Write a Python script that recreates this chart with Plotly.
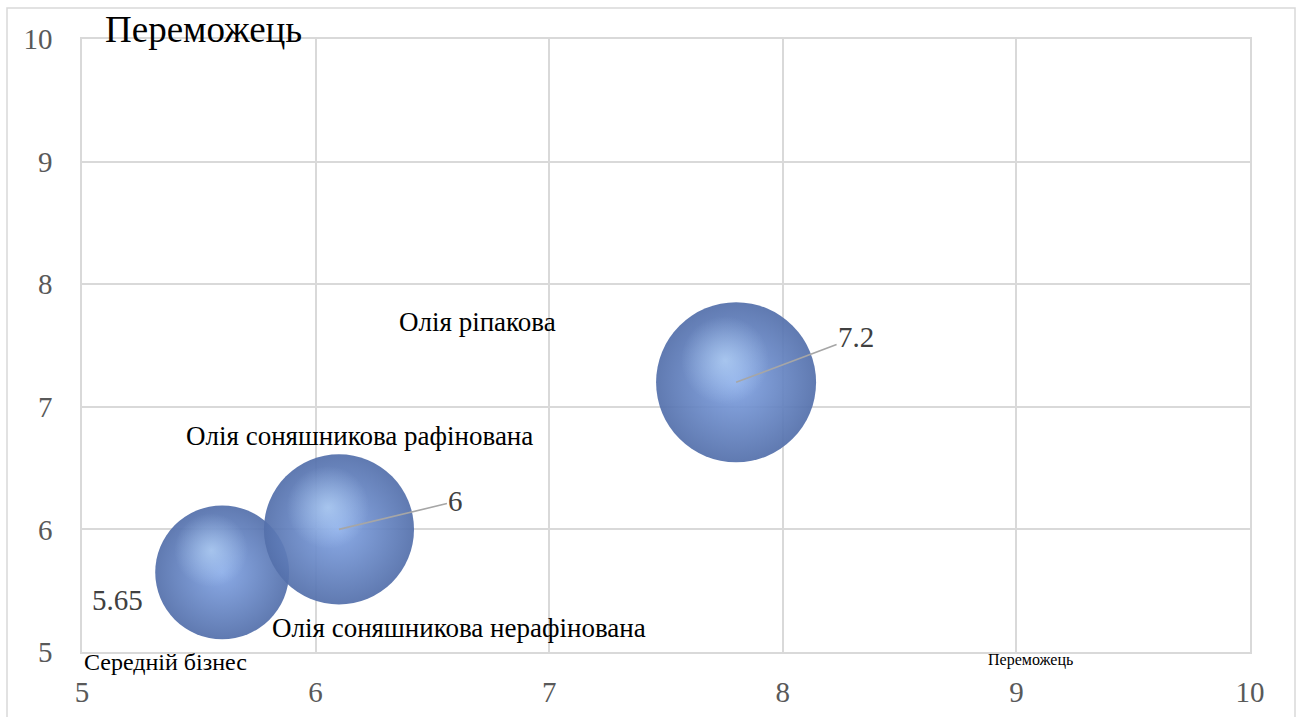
import plotly.graph_objects as go

# ---- data ----
products = ["Олія соняшникова нерафінована", "Олія соняшникова рафінована", "Олія ріпакова"]
x_vals = [5.6, 6.1, 7.8]
y_vals = [5.65, 6.0, 7.2]
bubble_size = [0.70, 0.88, 1.0]
x_ticks = [5, 6, 7, 8, 9, 10]
y_ticks = [5, 6, 7, 8, 9, 10]
quadrant_top = "Переможець"
quadrant_bottom_left = "Середній бізнес"
quadrant_bottom_right = "Переможець"

# ---- styles / positions ----
FONT = "'Liberation Serif', 'Times New Roman', 'DejaVu Serif', serif"
W, H = 1300, 717
L, R, T, B = 82, 50, 39, 65
pw, ph = W - L - R, H - T - B
max_diam = 160
hl_scale = 0.55          # highlight diameter relative to bubble
hl_dx, hl_dy = -11, -22  # highlight offset in px (screen: left, up)
X0, X1, Y0, Y1 = 5, 10, 5, 10

value_label_offsets = [(-105, 28, False), (117, -28, True), (120, -45, True)]  # (dx px, dy px (screen), arrow)
name_label_offsets = [(237, -56), (21, 93), (-259, 60)]  # xshift, yshift (up)

sref = 2 * max(bubble_size) / max_diam ** 2

fig = go.Figure()
fig.add_trace(go.Scatter(
    x=x_vals, y=y_vals, mode="markers",
    marker=dict(
        size=bubble_size, sizemode="area", sizeref=sref,
        color="#5470ab",
        gradient=dict(type="radial", color="#82a4e4"),
        line=dict(width=0),
        opacity=0.93,
    ),
    hovertext=products, showlegend=False,
))
# specular highlight layer on a shifted overlay axis pair
fig.add_trace(go.Scatter(
    x=x_vals, y=y_vals, mode="markers", xaxis="x2", yaxis="y2",
    marker=dict(
        size=bubble_size, sizemode="area", sizeref=sref / hl_scale ** 2,
        color="rgba(190,220,255,0)",
        gradient=dict(type="radial", color="rgba(195,225,255,0.85)"),
        line=dict(width=0),
    ),
    hoverinfo="skip", showlegend=False,
))

ann = []
for xv, yv, (dx, dy, arrow) in zip(x_vals, y_vals, value_label_offsets):
    txt = f"{yv:g}"
    if arrow:
        ann.append(dict(x=xv, y=yv, xref="x", yref="y", text=txt, showarrow=True,
                        arrowhead=0, arrowwidth=1.6, arrowcolor="#a6a6a6", ax=dx, ay=dy,
                        standoff=0, startstandoff=0,
                        font=dict(family=FONT, size=29, color="#404040")))
    else:
        ann.append(dict(x=xv, y=yv, xref="x", yref="y", text=txt, showarrow=False,
                        xshift=dx, yshift=-dy,
                        font=dict(family=FONT, size=29, color="#404040")))

for xv, yv, name, (sx, sy) in zip(x_vals, y_vals, products, name_label_offsets):
    ann.append(dict(x=xv, y=yv, xref="x", yref="y", text=name, showarrow=False,
                    xshift=sx, yshift=sy,
                    font=dict(family=FONT, size=27, color="#000000")))

ann.append(dict(x=(103 - L) / pw, y=(H - B - 30) / ph, xref="paper", yref="paper",
                text=quadrant_top, showarrow=False, xanchor="left", yanchor="middle",
                font=dict(family=FONT, size=37, color="#000000")))
ann.append(dict(x=0, y=(H - B - 662) / ph, xref="paper", yref="paper",
                text=quadrant_bottom_left, showarrow=False, xanchor="left", yanchor="middle",
                font=dict(family=FONT, size=24, color="#000000")))
ann.append(dict(x=(1030 - L) / pw, y=(H - B - 660) / ph, xref="paper", yref="paper",
                text=quadrant_bottom_right, showarrow=False, xanchor="center", yanchor="middle",
                font=dict(family=FONT, size=16, color="#000000")))

ux = (X1 - X0) / pw
uy = (Y1 - Y0) / ph
fig.update_layout(
    width=W, height=H,
    margin=dict(l=L, r=R, t=T, b=B, pad=0),
    paper_bgcolor="white", plot_bgcolor="white",
    font=dict(family=FONT),
    annotations=ann,
    shapes=[dict(type="rect", xref="paper", yref="paper",
                 x0=(7 - L) / pw, x1=(1295 - L) / pw,
                 y0=(H - B - 730) / ph, y1=(H - B - 8) / ph,
                 line=dict(color="#d9d9d9", width=1.5), layer="below")],
    xaxis2=dict(overlaying="x", range=[X0 - hl_dx * ux, X1 - hl_dx * ux], visible=False),
    yaxis2=dict(overlaying="y", range=[Y0 + hl_dy * uy, Y1 + hl_dy * uy], visible=False),
)
axis_common = dict(showgrid=True, gridcolor="#d9d9d9", gridwidth=1.5,
                   showline=True, mirror=True, linecolor="#d9d9d9", linewidth=1.5,
                   zeroline=False, ticks="outside", tickcolor="rgba(0,0,0,0)",
                   automargin=False,
                   tickfont=dict(family=FONT, size=29, color="#595959"))
fig.update_layout(
    xaxis=dict(range=[X0, X1], tickvals=x_ticks, ticktext=[str(v) for v in x_ticks],
               ticklen=13, **axis_common),
    yaxis=dict(range=[Y0, Y1], tickvals=y_ticks, ticktext=[str(v) for v in y_ticks],
               ticklen=22, **axis_common),
)

fig.write_html("out.html")
